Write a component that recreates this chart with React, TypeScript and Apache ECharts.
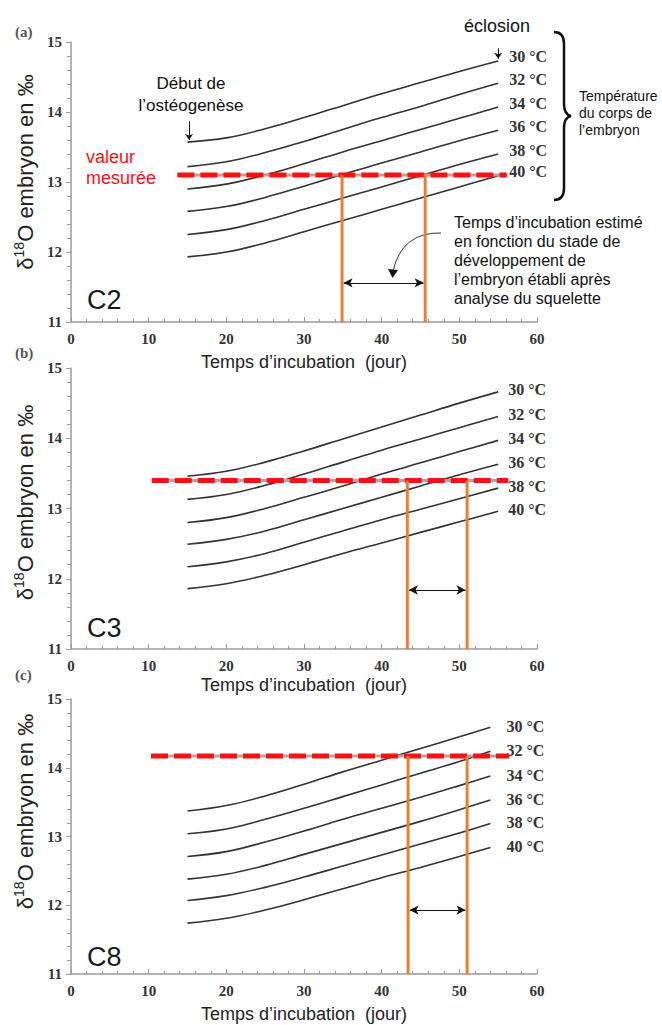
import React, { useEffect, useRef } from "react";
import * as echarts from "echarts";

// ---------- data ----------
const temperatures = ["30 °C", "32 °C", "34 °C", "36 °C", "38 °C", "40 °C"];
const panelNames = ["C2", "C3", "C8"];
const panelTags = ["(a)", "(b)", "(c)"];
const xTicks = [0, 10, 20, 30, 40, 50, 60];
const yTicks = [11, 12, 13, 14, 15];

const daysA = [15, 20, 25, 30, 35, 40, 45, 50, 55];
const daysB = [15, 20, 25, 30, 35, 40, 45, 50, 55];
const daysC = [15, 20, 25, 30, 35, 40, 45, 50, 54];

const curvesA = [
  [13.57, 13.63, 13.76, 13.92, 14.09, 14.26, 14.42, 14.58, 14.73],
  [13.22, 13.29, 13.42, 13.58, 13.75, 13.92, 14.08, 14.25, 14.41],
  [12.9, 12.97, 13.1, 13.26, 13.43, 13.59, 13.75, 13.91, 14.07],
  [12.58, 12.65, 12.78, 12.94, 13.11, 13.27, 13.43, 13.59, 13.74],
  [12.25, 12.32, 12.45, 12.61, 12.77, 12.93, 13.09, 13.25, 13.4],
  [11.93, 12.0, 12.13, 12.29, 12.45, 12.61, 12.77, 12.93, 13.09],
];
const curvesB = [
  [13.46, 13.53, 13.66, 13.82, 13.99, 14.16, 14.33, 14.5, 14.66],
  [13.13, 13.2, 13.33, 13.49, 13.66, 13.83, 13.99, 14.15, 14.31],
  [12.8, 12.87, 13.0, 13.16, 13.32, 13.49, 13.65, 13.81, 13.97],
  [12.49, 12.56, 12.68, 12.84, 13.0, 13.16, 13.32, 13.48, 13.63],
  [12.17, 12.24, 12.36, 12.52, 12.68, 12.84, 12.99, 13.14, 13.29],
  [11.86, 11.93, 12.05, 12.2, 12.36, 12.51, 12.66, 12.81, 12.96],
];
const curvesC = [
  [13.37, 13.45, 13.59, 13.76, 13.94, 14.11, 14.28, 14.45, 14.59],
  [13.04, 13.11, 13.25, 13.41, 13.58, 13.75, 13.92, 14.09, 14.24],
  [12.71, 12.78, 12.92, 13.08, 13.25, 13.41, 13.57, 13.74, 13.88],
  [12.38, 12.45, 12.58, 12.74, 12.9, 13.06, 13.22, 13.39, 13.53],
  [12.07, 12.14, 12.26, 12.41, 12.57, 12.73, 12.89, 13.05, 13.19],
  [11.74, 11.81, 11.93, 12.08, 12.24, 12.4, 12.55, 12.71, 12.84],
];

// measured value (red dashed line) and its extent in days
const measured = [13.1, 13.4, 14.17];
const measuredFrom = [13.7, 10.4, 10.3];
const measuredTo = [56.1, 56.3, 56.4];
// estimated incubation interval (orange lines)
const incubStart = [34.9, 43.3, 43.4];
const incubEnd = [45.6, 51.0, 51.0];
const arrowLevel = [11.56, 11.84, 11.93];

const SANS = "'Liberation Sans', Arial, sans-serif";
const SERIF = "'Liberation Serif', 'Times New Roman', serif";

const grids = [
  { left: 71, top: 42, width: 466, height: 280 },
  { left: 71, top: 368, width: 466, height: 281 },
  { left: 71, top: 699, width: 466, height: 275 },
];
const yNamePad = [20, 12, 50];
const labelOffsets = [
  [11, -4],
  [10, -2],
  [16, -1],
];

function buildSeries(idx: number, days: number[], curves: number[][]) {
  const s: any[] = [];
  curves.forEach((c, i) => {
    s.push({
      type: "line",
      name: temperatures[i],
      xAxisIndex: idx,
      yAxisIndex: idx,
      data: days.map((d, j) => [d, c[j]]),
      smooth: 0.4,
      symbol: "none",
      silent: true,
      lineStyle: { color: "#333333", width: 1.6 },
      endLabel: {
        show: true,
        formatter: temperatures[i],
        distance: 0,
        offset: labelOffsets[idx],
        fontFamily: SERIF,
        fontWeight: "bold",
        fontSize: 16,
        color: "#333",
      },
      z: 2,
    });
  });
  const m = measured[idx];
  // grey core under the red dashes
  s.push({
    type: "line",
    xAxisIndex: idx,
    yAxisIndex: idx,
    data: [
      [measuredFrom[idx], m],
      [measuredTo[idx], m],
    ],
    symbol: "none",
    silent: true,
    lineStyle: { color: "#a8a8a8", width: 3 },
    z: 3,
  });
  s.push({
    type: "line",
    xAxisIndex: idx,
    yAxisIndex: idx,
    data: [
      [measuredFrom[idx], m],
      [measuredTo[idx], m],
    ],
    symbol: "none",
    silent: true,
    lineStyle: { color: "#ff1010", width: 5, type: [17, 6] },
    z: 4,
  });
  [incubStart[idx], incubEnd[idx]].forEach((x, k) => {
    s.push({
      type: "line",
      xAxisIndex: idx,
      yAxisIndex: idx,
      data: [
        [x, 11],
        [x, m],
      ],
      symbol: "none",
      silent: true,
      lineStyle: { color: "#ed7d31", width: 3 },
      z: 5,
      markLine:
        k === 0
          ? {
              silent: true,
              animation: false,
              symbol: ["arrow", "arrow"],
              symbolSize: [7, 9],
              label: { show: false },
              lineStyle: { color: "#111", width: 1, type: "solid" },
              data: [
                [
                  { coord: [incubStart[idx] + 0.2, arrowLevel[idx]] },
                  { coord: [incubEnd[idx] - 0.2, arrowLevel[idx]] },
                ],
              ],
            }
          : undefined,
    });
  });
  return s;
}

export default function App() {
  const ref = useRef<HTMLDivElement>(null);
  useEffect(() => {
    if (!ref.current) return;
    const braceD =
      "M0,0 C7,0 10,4 10,12 L10,72 C10,79 12,83 17,84 C12,85 10,89 10,96 L10,156 C10,164 7,168 0,168";
    echarts.graphic.registerShape("brace", echarts.graphic.extendPath(braceD, {}) as any);
    const chart = echarts.init(ref.current, undefined, { renderer: "svg" });

    const xAxes = grids.map((_, i) => ({
      type: "value",
      gridIndex: i,
      min: xTicks[0],
      max: xTicks[xTicks.length - 1],
      interval: 10,
      name: "Temps d’incubation  (jour)",
      nameLocation: "middle",
      nameGap: i === 1 ? 27 : 31,
      nameTextStyle: { fontFamily: SANS, fontSize: 18, color: "#222" },
      axisLine: { show: true, lineStyle: { color: "#9a9a9a", width: 1.5 } },
      axisTick: { show: true, inside: true, length: 5, lineStyle: { color: "#9a9a9a" } },
      minorTick: { show: true, splitNumber: 5, length: 3, lineStyle: { color: "#9a9a9a" } },
      splitLine: { show: false },
      axisLabel: {
        margin: 9,
        fontFamily: SERIF,
        fontWeight: "bold",
        fontSize: 15,
        color: "#333",
      },
    }));
    const yAxes = grids.map((_, i) => ({
      type: "value",
      gridIndex: i,
      min: yTicks[0],
      max: yTicks[yTicks.length - 1],
      interval: 1,
      name: "{m|δ}{s|18}{m|O embryon en ‰}",
      nameLocation: "middle",
      nameRotate: 90,
      nameGap: 27,
      nameTextStyle: {
        padding: [0, 0, 0, yNamePad[i]],
        rich: {
          m: { fontFamily: SANS, fontSize: 22, color: "#222", lineHeight: 26 },
          s: {
            fontFamily: SANS,
            fontSize: 14,
            color: "#222",
            lineHeight: 16,
            verticalAlign: "top",
          },
        },
      },
      axisLine: { show: true, lineStyle: { color: "#9a9a9a", width: 1.5 } },
      axisTick: { show: true, inside: false, length: 5, lineStyle: { color: "#9a9a9a" } },
      minorTick: { show: true, splitNumber: 5, length: 4, lineStyle: { color: "#9a9a9a" } },
      splitLine: { show: false },
      axisLabel: {
        margin: 9,
        fontFamily: SERIF,
        fontWeight: "bold",
        fontSize: 15,
        color: "#333",
      },
    }));

    const series: any[] = [
      ...buildSeries(0, daysA, curvesA),
      ...buildSeries(1, daysB, curvesB),
      ...buildSeries(2, daysC, curvesC),
      {
        type: "line",
        xAxisIndex: 0,
        yAxisIndex: 0,
        data: [],
        silent: true,
        markLine: {
          silent: true,
          animation: false,
          symbol: ["none", "arrow"],
          symbolSize: 6,
          label: { show: false },
          lineStyle: { color: "#111", width: 1, type: "solid" },
          data: [
            [{ coord: [15.2, 13.87] }, { coord: [15.2, 13.6] }],
            [{ coord: [55.0, 14.91] }, { coord: [55.0, 14.76] }],
          ],
        },
      },
    ];

    const txt = (text: string, x: number, y: number, font: string, fill: string, align = "left", lh?: number) => ({
      type: "text",
      x,
      y,
      silent: true,
      style: {
        text,
        font,
        fill,
        align,
        textAlign: align,
        verticalAlign: "middle",
        textVerticalAlign: "middle",
        lineHeight: lh,
      },
    });

    const graphic: any[] = [
      txt(panelTags[0], 15, 32, `bold 15px ${SERIF}`, "#555"),
      txt(panelTags[1], 15, 353, `bold 15px ${SERIF}`, "#555"),
      txt(panelTags[2], 15, 675, `bold 15px ${SERIF}`, "#555"),
      txt(panelNames[0], 87, 300, `27px ${SANS}`, "#1a1a1a"),
      txt(panelNames[1], 87, 628, `27px ${SANS}`, "#1a1a1a"),
      txt(panelNames[2], 87, 957, `27px ${SANS}`, "#1a1a1a"),
      txt("Début de\nl’ostéogenèse", 191, 94, `17px ${SANS}`, "#111", "center", 22),
      txt("valeur\nmesurée", 86, 167, `18px ${SANS}`, "#ff1010", "left", 21),
      txt("éclosion", 497, 26, `18px ${SANS}`, "#111", "center"),
      txt("Température\ndu corps de\nl’embryon", 579, 113, `14px ${SANS}`, "#111", "left", 17),
      txt(
        "Temps d’incubation estimé\nen fonction du stade de\ndéveloppement de\nl’embryon établi après\nanalyse du squelette",
        454,
        260,
        `16px ${SANS}`,
        "#111",
        "left",
        19
      ),
      {
        type: "brace",
        x: 554,
        y: 32,
        silent: true,
        style: { stroke: "#111", lineWidth: 2.5, fill: "none" },
      },
      {
        type: "bezierCurve",
        silent: true,
        shape: { x1: 441, y1: 233, x2: 393, y2: 271, cpx1: 402, cpy1: 232 },
        style: { stroke: "#333", lineWidth: 1, fill: "none" },
      },
      {
        type: "polygon",
        silent: true,
        shape: {
          points: [
            [388, 269],
            [398, 270],
            [392.5, 278],
          ],
        },
        style: { fill: "#111" },
      },
    ];

    chart.setOption({
      animation: false,
      backgroundColor: "#ffffff",
      grid: grids,
      xAxis: xAxes,
      yAxis: yAxes,
      series,
      graphic,
    });
    return () => chart.dispose();
  }, []);
  return (
    <div
      ref={ref}
      style={{ position: "fixed", left: 0, top: 0, width: 662, height: 1025, background: "#fff" }}
    />
  );
}
